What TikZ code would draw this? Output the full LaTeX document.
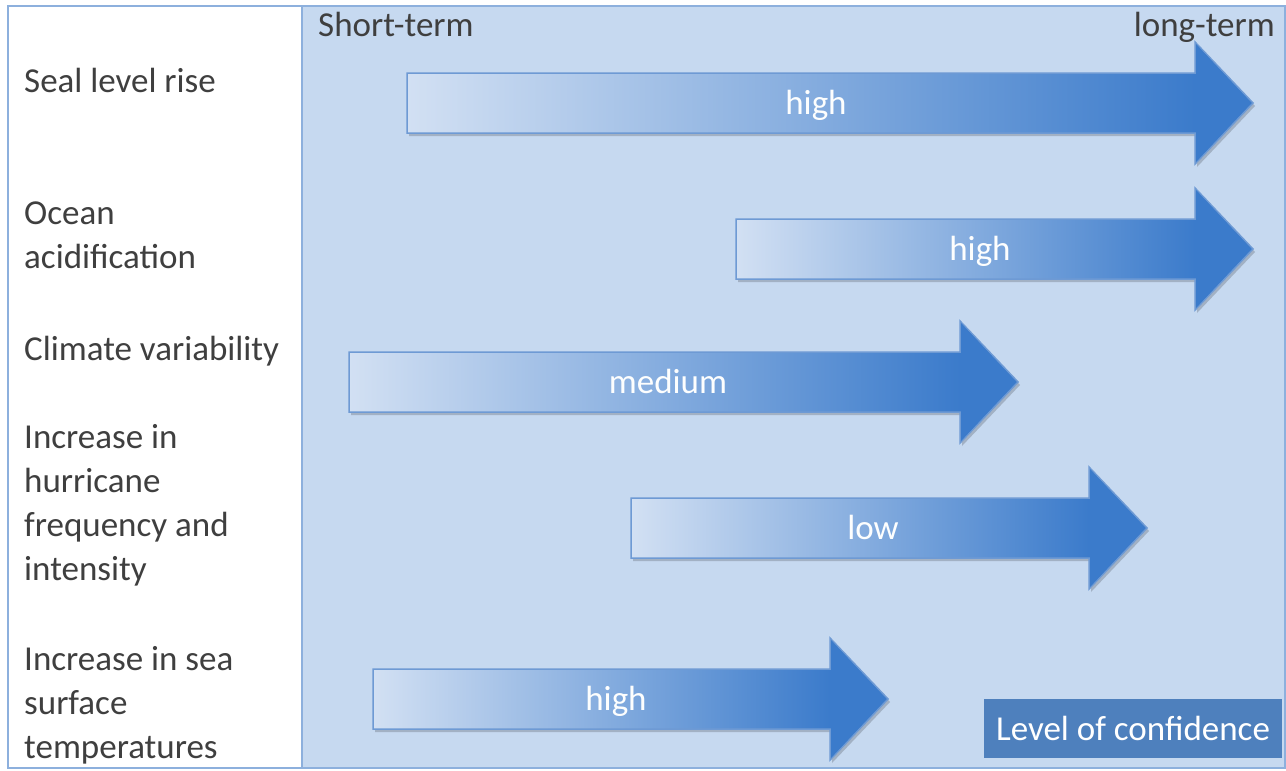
\documentclass[tikz,border=0pt]{standalone}
\usepackage{fontspec}
\setmainfont{Carlito}
\definecolor{panelblue}{HTML}{C6D9F0}
\definecolor{edgeblue}{HTML}{8DB0DD}
\definecolor{arrowlight}{HTML}{D2E0F3}
\definecolor{arrowdark}{HTML}{3B7BCB}
\definecolor{arrowline}{HTML}{6E9AD4}
\definecolor{labelgray}{HTML}{3F3F3F}
\definecolor{boxblue}{HTML}{4E80BD}
\tikzset{
  rowlabel/.style={anchor=base west, inner sep=0pt, text=labelgray,
    font=\fontsize{35}{44}\selectfont},
  headlabel/.style={inner sep=0pt, text=labelgray, font=\fontsize{35}{44}\selectfont},
  arrowtext/.style={anchor=base, inner sep=0pt, text=white!96!arrowlight,
    font=\fontsize{35}{44}\selectfont},
  arrowedge/.style={draw=arrowline, line width=1.5pt, line join=miter},
  confbox/.style={fill=boxblue, text=white, inner sep=0pt, minimum width=298pt,
    minimum height=59pt, font=\fontsize{35}{44}\selectfont}
}
\newcommand{\stack}[1]{\vtop{\baselineskip=44pt\lineskiplimit=-100pt\halign{##\hfil\cr#1\crcr}}}
% #1 left x, #2 head base x, #3 tip x, #4 centre y, #5 text x, #6 text, #7 name
\newcommand{\confarrow}[7]{%
  \fill[black, opacity=0.18] (#1+2,#4-30+3) -- (#2+2,#4-30+3) -- (#2+2,#4-61+3) -- (#3+2,#4+3)
     -- (#2+2,#4+61+3) -- (#2+2,#4+30+3) -- (#1+2,#4+30+3) -- cycle;
  \shade[left color=arrowlight, middle color=arrowlight!62!arrowdark, right color=arrowdark]
     (#1,#4-30) rectangle (#2,#4+30);
  \fill[arrowdark] (#2,#4-61) -- (#3,#4) -- (#2,#4+61) -- cycle;
  \draw[arrowedge] (#1,#4-30) -- (#2,#4-30) -- (#2,#4-61) -- (#3,#4) -- (#2,#4+61)
     -- (#2,#4+30) -- (#1,#4+30) -- cycle;
  \fill[arrowdark] (#2+1,#4-59) -- (#3-2,#4) -- (#2+1,#4+59) -- cycle;
  \node[arrowtext] (#7) at (#5,#4+11) {#6};
}
\begin{document}
\begin{tikzpicture}[x=1pt,y=-1pt]
\useasboundingbox (0,0) rectangle (1286,771);
\fill[white] (0,0) rectangle (1286,771);
% panels
\fill[white] (8,6) rectangle (302,768);
\fill[panelblue] (302,6) rectangle (1285,768);
\draw[edgeblue, line width=1.5pt] (8,6) rectangle (1285,768);
\draw[edgeblue, line width=1.5pt] (302,6) -- (302,768);
% column heads
\node[headlabel, anchor=base west] (short) at (318,36) {Short-term};
\node[headlabel, anchor=base east] (long) at (1275,36) {long-term};
% arrows
\confarrow{407}{1195}{1253}{103}{816}{high}{a1}
\confarrow{736}{1195}{1253}{249}{980}{high}{a2}
\confarrow{349}{960}{1018}{382}{668}{medium}{a3}
\confarrow{631}{1089}{1147}{528}{873}{low}{a4}
\confarrow{373}{830}{888}{699}{616}{high}{a5}
% row labels
\node[rowlabel] (r1) at (24,92) {Seal level rise};
\node[rowlabel] (r2) at (24,224) {\stack{Ocean\cr acidification}};
\node[rowlabel] (r3) at (24,360) {Climate variability};
\node[rowlabel] (r4) at (24,448) {\stack{Increase in\cr hurricane\cr frequency and\cr intensity}};
\node[rowlabel] (r5) at (24,670) {\stack{Increase in sea\cr surface\cr temperatures}};
% legend box
\node[confbox] (conf) at (1133,728.5) {Level of confidence};
\end{tikzpicture}
\end{document}
